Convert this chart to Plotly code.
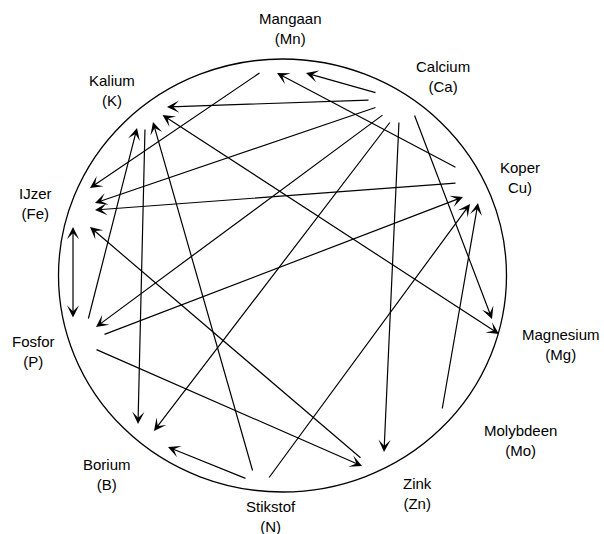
import plotly.graph_objects as go

# Nutrient labels (two lines each) and label centres
label_names = ["Mangaan", "Calcium", "Kalium", "IJzer", "Koper", "Fosfor",
               "Magnesium", "Molybdeen", "Borium", "Zink", "Stikstof"]
label_codes = ["(Mn)", "(Ca)", "(K)", "(Fe)", "Cu)", "(P)",
               "(Mg)", "(Mo)", "(B)", "(Zn)", "(N)"]
label_x = [290, 442.5, 111.5, 35, 520, 33.5, 561, 520, 106.5, 417, 271]
label_y = [28, 76.5, 90.5, 203, 177.5, 351.5, 344, 440, 474.5, 493.5, 516.5]

# Interaction arrows: tail (x0,y0) -> head (x1,y1); both = arrowhead on both ends
edge_from = ["Ca", "Ca", "Ca", "Ca", "Ca", "Ca", "Ca", "Cu", "Cu", "Mn", "K",
             "P", "K", "N", "Zn", "P", "P", "P", "N", "N", "Mo"]
edge_to = ["Mn", "K", "Fe", "P", "B", "Zn", "Mg", "Mn", "Fe", "Fe", "Mg",
           "K", "B", "K", "Fe", "Fe", "Cu", "Zn", "B", "Cu", "Cu"]
edge_x0 = [377, 370, 377, 384, 391, 399, 414, 457, 457, 261, 161,
           88, 145, 253, 362, 73, 103, 95, 247, 268, 442]
edge_y0 = [93, 100, 107, 114, 121, 121, 114, 168, 183, 72, 114,
           320, 128, 472, 459, 319, 335, 349, 479, 479, 410]
edge_x1 = [306, 167, 95, 96, 154, 384, 492, 277, 95, 90, 499,
           137, 138, 153, 90, 73, 463, 362, 168, 470, 478]
edge_y1 = [73, 107, 203, 327, 431, 452, 319, 73, 210, 188, 334,
           128, 424, 122, 227, 227, 197, 466, 447, 204, 203]
edge_both = [False, False, False, False, False, False, False, False, False, False, True,
             False, False, False, False, True, False, False, False, False, False]

# Boundary circle
circle_x = [58.5, 506.5]
circle_y = [59, 492]

FONT = "Liberation Sans, Arial, sans-serif"

fig = go.Figure()
fig.add_trace(go.Scatter(x=[0, 604], y=[0, 534], mode="markers",
                         marker=dict(opacity=0), hoverinfo="skip", showlegend=False))

fig.add_shape(type="circle", xref="x", yref="y",
              x0=circle_x[0], x1=circle_x[1], y0=circle_y[0], y1=circle_y[1],
              line=dict(color="black", width=1.3))

annotations = []
for i in range(len(edge_x0)):
    a = dict(x=edge_x1[i], y=edge_y1[i], ax=edge_x0[i], ay=edge_y0[i],
             xref="x", yref="y", axref="x", ayref="y", text="",
             showarrow=True, arrowhead=3, arrowsize=1.7, arrowwidth=1.2,
             arrowcolor="black", standoff=0, startstandoff=0)
    if edge_both[i]:
        a.update(arrowside="end+start", startarrowhead=3, startarrowsize=1.7)
    annotations.append(a)

for n, c, x, y in zip(label_names, label_codes, label_x, label_y):
    annotations.append(dict(x=x, y=y, xref="x", yref="y", text=f"{n}<br>{c}",
                            showarrow=False, xanchor="center", yanchor="middle",
                            align="center", font=dict(family=FONT, size=15, color="black")))

fig.update_layout(
    width=604, height=534, margin=dict(l=0, r=0, t=0, b=0),
    paper_bgcolor="white", plot_bgcolor="white",
    xaxis=dict(range=[0, 604], visible=False, fixedrange=True),
    yaxis=dict(range=[534, 0], visible=False, fixedrange=True),
    annotations=annotations, showlegend=False,
)
fig.write_html("out.html", config={"displayModeBar": False},
               post_script="document.body.style.margin='0';document.body.style.overflow='hidden';")
